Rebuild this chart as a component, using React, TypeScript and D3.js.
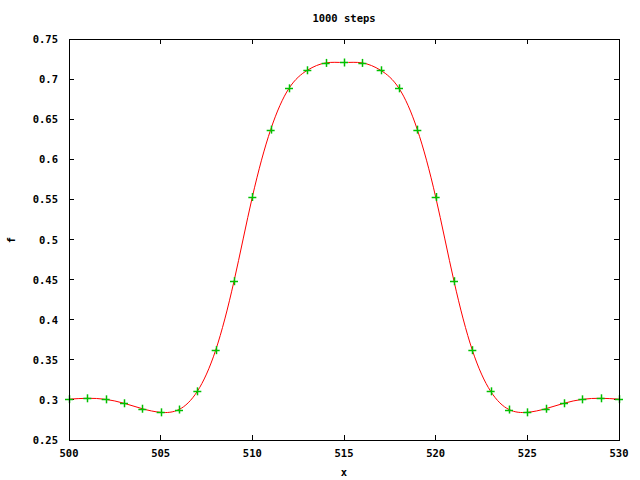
import React from "react";
import * as d3 from "d3";

const title = "1000 steps";
const xs = [500,501,502,503,504,505,506,507,508,509,510,511,512,513,514,515,516,517,518,519,520,521,522,523,524,525,526,527,528,529,530];
const fs = [0.3009,0.302,0.3007,0.2958,0.289,0.2845,0.288,0.3107,0.362,0.448,0.553,0.637,0.6885,0.711,0.7202,0.7207,0.7202,0.711,0.6885,0.637,0.553,0.448,0.362,0.3107,0.288,0.2845,0.289,0.2958,0.3007,0.302,0.3009];
const xTicks = [500,505,510,515,520,525,530];
const yTicks = [0.25,0.3,0.35,0.4,0.45,0.5,0.55,0.6,0.65,0.7,0.75];

const W = 640, H = 480;
const L = 69, R = 619, T = 39, B = 440;
const font = "'DejaVu Sans Mono', monospace";

export default function App() {
  const x = d3.scaleLinear().domain([500, 530]).range([L, R]);
  const y = d3.scaleLinear().domain([0.25, 0.75]).range([B, T]);
  const pts: [number, number][] = xs.map((v, i) => [v, fs[i]]);
  const line = d3.line<[number, number]>().x(d => x(d[0])).y(d => y(d[1])).curve(d3.curveNatural);
  const tl = 5;
  return (
    <svg width={W} height={H} style={{ position: "absolute", left: 0, top: 0, background: "#fff" }}>
      <rect x={0} y={0} width={W} height={H} fill="#fff" />
      <text x={(L + R) / 2} y={22} textAnchor="middle" fontFamily={font} fontWeight="bold" fontSize={10.5}>{title}</text>
      {xTicks.map(t => (
        <g key={"x" + t}>
          <line x1={x(t)} x2={x(t)} y1={B} y2={B - tl} stroke="#000" shapeRendering="crispEdges" />
          <line x1={x(t)} x2={x(t)} y1={T} y2={T + tl} stroke="#000" shapeRendering="crispEdges" />
          <text x={x(t)} y={457} textAnchor="middle" fontFamily={font} fontWeight="bold" fontSize={10.5}>{t}</text>
        </g>
      ))}
      {yTicks.map(t => (
        <g key={"y" + t}>
          <line x1={L} x2={L + tl} y1={y(t)} y2={y(t)} stroke="#000" shapeRendering="crispEdges" />
          <line x1={R} x2={R - tl} y1={y(t)} y2={y(t)} stroke="#000" shapeRendering="crispEdges" />
          <text x={58} y={y(t) + 4} textAnchor="end" fontFamily={font} fontWeight="bold" fontSize={10.5}>{String(t)}</text>
        </g>
      ))}
      <text x={344} y={476} textAnchor="middle" fontFamily={font} fontWeight="bold" fontSize={10.5}>x</text>
      <text transform={`translate(15,240) rotate(-90)`} textAnchor="middle" fontFamily={font} fontWeight="bold" fontSize={10.5}>f</text>
      <path d={line(pts) || ""} fill="none" stroke="#ff0000" strokeWidth={1} />
      {pts.map((p, i) => (
        <g key={"p" + i} stroke="#00c000" strokeWidth={1.5}>
          <line x1={x(p[0]) - 4} x2={x(p[0]) + 4} y1={Math.round(y(p[1])) + 0.5} y2={Math.round(y(p[1])) + 0.5} />
          <line x1={Math.round(x(p[0])) + 0.5} x2={Math.round(x(p[0])) + 0.5} y1={y(p[1]) - 4} y2={y(p[1]) + 4} />
        </g>
      ))}
      <rect x={L} y={T} width={R - L} height={B - T} fill="none" stroke="#000" shapeRendering="crispEdges" />
    </svg>
  );
}
